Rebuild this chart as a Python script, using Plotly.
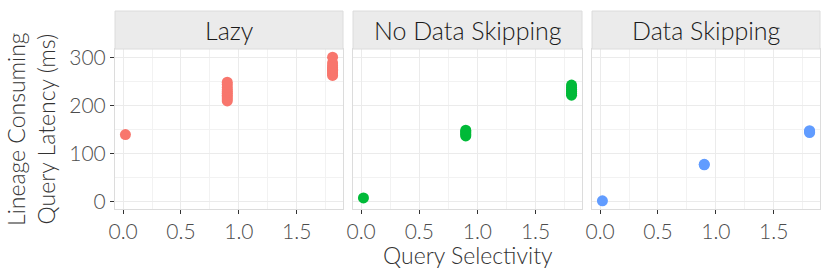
import plotly.graph_objects as go

panels = ["Lazy", "No Data Skipping", "Data Skipping"]
colors = ["#F8766D", "#00BA38", "#619CFF"]

lazy_x = [0.02] + [0.9] * 10 + [1.81] * 9
lazy_y = [140, 210, 214, 218, 222, 226, 229, 233, 238, 244, 249,
          263, 266, 270, 273, 276, 279, 283, 289, 301]
nds_x = [0.02] + [0.9] * 5 + [1.81] * 6
nds_y = [8, 137, 140, 143, 146, 149, 222, 226, 230, 234, 238, 243]
ds_x = [0.02, 0.9, 0.9, 1.81, 1.81, 1.81]
ds_y = [2, 77, 78, 144, 146, 148]

xs = [lazy_x, nds_x, ds_x]
ys = [lazy_y, nds_y, ds_y]

x_ticks = [0, 0.5, 1.0, 1.5]
x_ticktext = ["0.0", "0.5", "1.0", "1.5"]
y_ticks = [0, 100, 200, 300]

W, H = 830, 277
px_x = [(115, 343), (353, 582), (592, 820)]
plot_top, plot_bot, strip_top = 49, 209, 11

FONT = "Lato"
fig = go.Figure()
for i in range(3):
    n = "" if i == 0 else str(i + 1)
    fig.add_trace(go.Scatter(
        x=xs[i], y=ys[i], mode="markers",
        marker=dict(color=colors[i], size=11, line=dict(width=0)),
        xaxis="x" + n, yaxis="y" + n, showlegend=False, hoverinfo="x+y"))
    x0, x1 = px_x[i]
    dom = [x0 / W, x1 / W]
    fig.layout["xaxis" + n] = dict(
        domain=dom, range=[-0.07, 1.9], anchor="y" + n, automargin=False,
        tickvals=x_ticks, ticktext=x_ticktext,
        showgrid=True, gridcolor="#EBEBEB", gridwidth=1.4,
        minor=dict(tickvals=[0.25, 0.75, 1.25, 1.75], showgrid=True,
                   gridcolor="#F2F2F2", gridwidth=0.8),
        zeroline=False, showline=True, linecolor="#DCDCDC", linewidth=1,
        mirror=True, ticks="outside", ticklen=4, tickwidth=1.2,
        tickcolor="#333333",
        tickfont=dict(family=FONT, size=21, color="#4D4D4D", weight=300))
    fig.layout["yaxis" + n] = dict(
        domain=[1 - plot_bot / H, 1 - plot_top / H], range=[-15, 318],
        anchor="x" + n, tickvals=y_ticks, automargin=False,
        showticklabels=(i == 0),
        showgrid=True, gridcolor="#EBEBEB", gridwidth=1.4,
        minor=dict(tickvals=[50, 150, 250], showgrid=True,
                   gridcolor="#F2F2F2", gridwidth=0.8),
        zeroline=False, showline=True, linecolor="#DCDCDC", linewidth=1,
        mirror=True, ticks="outside" if i == 0 else "", ticklen=4,
        tickwidth=1.2, tickcolor="#333333",
        tickfont=dict(family=FONT, size=21, color="#4D4D4D", weight=300))
    # strip
    fig.add_shape(type="rect", xref="paper", yref="paper",
                  x0=x0 / W, x1=x1 / W, y0=1 - plot_top / H, y1=1 - strip_top / H,
                  fillcolor="#EBEBEB", line=dict(color="#DCDCDC", width=1))
    fig.add_annotation(text=panels[i], xref="paper", yref="paper",
                       x=(x0 + x1) / 2 / W, y=1 - (plot_top + strip_top) / 2 / H,
                       showarrow=False, xanchor="center", yanchor="middle",
                       font=dict(family=FONT, size=25, color="#1A1A1A", weight=300))

fig.add_annotation(text="Query Selectivity", xref="paper", yref="paper",
                   x=(115 + 820) / 2 / W, y=1 - 255 / H, showarrow=False,
                   xanchor="center", yanchor="middle",
                   font=dict(family=FONT, size=23, color="#333333", weight=300))
fig.add_annotation(text="Lineage Consuming<br>Query Latency (ms)", xref="paper",
                   yref="paper", x=31 / W, y=1 - 129 / H, showarrow=False,
                   textangle=-90, xanchor="center", yanchor="middle",
                   font=dict(family=FONT, size=23, color="#333333", weight=300))

fig.update_layout(width=W, height=H, margin=dict(l=0, r=0, t=0, b=0),
                  plot_bgcolor="white", paper_bgcolor="white")
fig.write_html("out.html", config={"displayModeBar": False},
               post_script="document.body.style.margin='0';"
                           "document.body.style.overflow='hidden';")
